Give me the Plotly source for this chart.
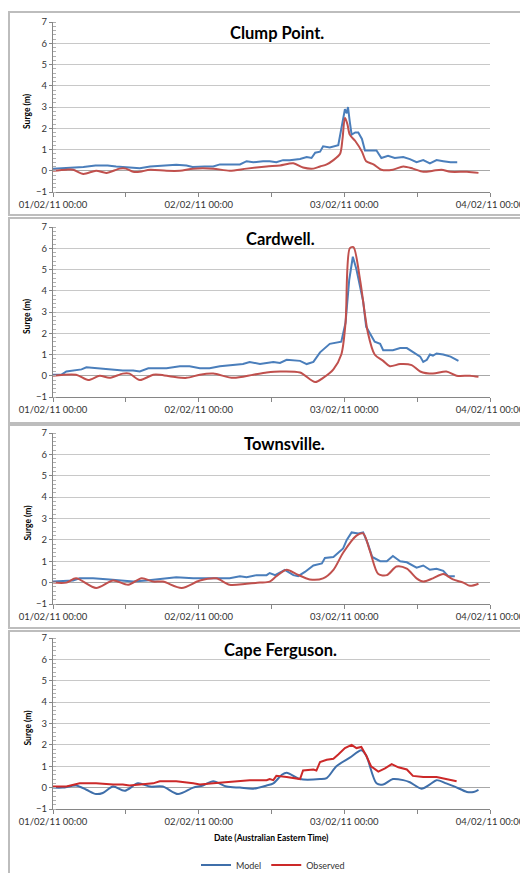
import pandas as pd
import plotly.graph_objects as go

# surge (m) vs hours since 01/02/11 00:00
CLUMP_MODEL = [(0, 0.10), (2, 0.12), (5, 0.18), (7, 0.25), (9, 0.25), (10.4, 0.20), (13, 0.15),
               (14.3, 0.12), (16, 0.20), (18.7, 0.25), (20.3, 0.28), (22, 0.25), (23, 0.18),
               (25, 0.20), (26.4, 0.20), (27.5, 0.30), (29.7, 0.30), (30.8, 0.30), (31.9, 0.45),
               (33, 0.40), (34.6, 0.45), (35.7, 0.45), (36.8, 0.40), (37.9, 0.50), (39, 0.50),
               (40.7, 0.55), (41.8, 0.65), (42.6, 0.60), (43.2, 0.85), (44, 0.90), (44.5, 1.15),
               (45.6, 1.10), (47, 1.20), (47.3, 1.70), (47.5, 2.00), (48.1, 2.90), (48.4, 2.70),
               (48.6, 3.00), (48.9, 2.30), (49.2, 1.70), (49.8, 1.80), (50.3, 1.80), (50.9, 1.50),
               (51.4, 0.95), (53.3, 0.95), (54.1, 0.60), (55.2, 0.70), (56.3, 0.60), (57.7, 0.65),
               (58.8, 0.55), (59.9, 0.40), (61, 0.50), (62.1, 0.35), (63.2, 0.50), (64.3, 0.45),
               (65.5, 0.40), (66.6, 0.40)]
CLUMP_OBS = [(0, 0.0), (2.2, 0.05), (3.3, 0.05), (5, -0.15), (7.1, 0.0), (8.8, -0.10), (11, 0.10),
             (12, 0.10), (13.2, -0.05), (14.3, -0.05), (16, 0.05), (18.7, 0.0), (20.9, 0.0),
             (23.1, 0.10), (26.4, 0.10), (29.1, 0.0), (31.9, 0.10), (35.2, 0.20), (37.4, 0.25),
             (39.6, 0.35), (41.2, 0.15), (42.9, 0.10), (44, 0.20), (45.1, 0.30), (46.2, 0.50),
             (47.3, 0.80), (47.7, 1.50), (48.1, 2.50), (48.5, 2.20), (48.9, 1.70), (49.8, 1.40),
             (50.9, 0.90), (51.6, 0.45), (52.8, 0.30), (54.1, 0.05), (56, 0.05), (57.7, 0.20),
             (59.3, 0.10), (61, -0.05), (62.6, 0.0), (64, 0.05), (65.5, -0.05), (68.2, -0.05),
             (70.1, -0.10)]

CARD_MODEL = [(0, 0.05), (1.4, 0.05), (2.2, 0.20), (3.8, 0.25), (4.7, 0.30), (5.5, 0.40), (7.7, 0.35),
              (9.3, 0.30), (11.5, 0.25), (13.2, 0.25), (14.3, 0.20), (15.7, 0.35), (18.7, 0.35),
              (20.9, 0.45), (22.5, 0.45), (24.2, 0.35), (25.8, 0.35), (27.5, 0.45), (29.7, 0.50),
              (31.3, 0.55), (32.4, 0.65), (34.1, 0.55), (36.3, 0.65), (37.4, 0.60), (38.5, 0.75),
              (40.7, 0.70), (41.8, 0.55), (42.9, 0.65), (44, 1.10), (45.6, 1.50), (47.5, 1.60),
              (48.2, 2.50), (48.8, 4.50), (49.4, 5.60), (50, 5.00), (51.1, 3.50), (51.6, 2.30),
              (53, 1.60), (53.9, 1.50), (54.4, 1.20), (56, 1.20), (57.2, 1.30), (58.3, 1.30),
              (59.3, 1.10), (60.5, 0.90), (61, 0.65), (61.6, 0.75), (62.1, 1.00), (62.6, 0.95),
              (63.2, 1.05), (64.3, 1.00), (65.5, 0.90), (66.8, 0.70)]
CARD_OBS = [(0, 0.0), (3.8, 0.05), (5.8, -0.20), (7.7, 0.0), (9.3, -0.10), (11.5, 0.10), (12.6, 0.10),
            (14.3, -0.20), (16.5, 0.05), (17.6, 0.05), (19.8, -0.05), (22, -0.10), (24.2, 0.05),
            (26.4, 0.10), (29.7, -0.10), (33, 0.05), (35.2, 0.15), (37.4, 0.20), (40.7, 0.15),
            (43.2, -0.30), (44.5, -0.10), (46.2, 0.30), (47.5, 1.00), (48.2, 2.50), (48.9, 6.00),
            (49.5, 6.05), (50.6, 4.50), (51.9, 2.00), (53, 1.00), (54.4, 0.70), (55.5, 0.45),
            (57.2, 0.55), (59.1, 0.50), (60.5, 0.20), (62.6, 0.10), (64.8, 0.20), (66.5, 0.0),
            (68.7, 0.0), (70.1, -0.05)]

TOWN_MODEL = [(0, 0.05), (3.3, 0.10), (4.4, 0.20), (6.6, 0.20), (9.3, 0.15), (12, 0.10), (13.2, 0.05),
              (15.4, 0.10), (18.1, 0.20), (20.3, 0.25), (23.1, 0.20), (26.4, 0.20), (29.1, 0.20),
              (30.8, 0.30), (31.9, 0.25), (33.5, 0.35), (35.2, 0.35), (35.7, 0.45), (36.6, 0.35),
              (38.2, 0.60), (39.6, 0.35), (40.4, 0.30), (41.5, 0.50), (42.9, 0.80), (44.3, 0.90),
              (44.8, 1.15), (46.2, 1.20), (47.8, 1.60), (48.4, 2.00), (49.2, 2.35), (50.3, 2.30),
              (51.1, 2.35), (51.9, 1.80), (52.6, 1.20), (53.9, 1.00), (55, 1.00), (56, 1.25),
              (57.2, 1.00), (58.3, 0.95), (59.9, 0.70), (61, 0.80), (62.1, 0.60), (63.2, 0.65),
              (64.3, 0.55), (65.1, 0.30), (66.2, 0.30)]
TOWN_OBS = [(0, 0.0), (2.2, 0.0), (3.8, 0.20), (7.1, -0.25), (9.9, 0.10), (12.4, -0.10), (14.6, 0.20),
            (16.5, 0.05), (18.1, 0.05), (21.2, -0.25), (24.2, 0.10), (26.9, 0.20), (29.1, -0.10),
            (31.9, -0.05), (34.1, 0.0), (35.7, 0.05), (36.8, 0.30), (38.5, 0.60), (40.1, 0.40),
            (42.3, 0.15), (44.5, 0.20), (46.2, 0.60), (47.8, 1.40), (50, 2.20), (51.1, 2.30),
            (52.2, 1.50), (53.6, 0.40), (55, 0.35), (56.6, 0.75), (58.3, 0.65), (59.9, 0.20),
            (61, 0.05), (62.6, 0.20), (64.3, 0.40), (65.9, 0.15), (67.6, 0.0), (68.7, -0.15),
            (70.1, -0.05)]

CAPE_MODEL = [(0, 0.0), (1.6, 0.0), (3.8, 0.10), (5.5, -0.10), (7.1, -0.30), (8.2, -0.25), (9.9, 0.05),
              (11.8, -0.15), (14, 0.20), (16, 0.05), (18.1, 0.05), (20.6, -0.30), (23.1, 0.0),
              (24.7, 0.10), (26.4, 0.30), (28.6, 0.05), (30.8, 0.0), (33, -0.05), (35.2, 0.10),
              (36.3, 0.20), (37.7, 0.60), (38.5, 0.70), (40.7, 0.40), (44, 0.40), (45.1, 0.45),
              (46.7, 1.00), (48.9, 1.40), (50.8, 1.75), (51.6, 1.50), (53.3, 0.20), (54.4, 0.15),
              (56, 0.40), (57.7, 0.35), (58.8, 0.25), (60.7, -0.05), (62.1, 0.15), (63.2, 0.35),
              (64.8, 0.20), (66.2, 0.05), (68.2, -0.20), (69.3, -0.20), (70.1, -0.10)]
CAPE_OBS = [(0, 0.05), (2.2, 0.05), (4.4, 0.20), (7.1, 0.20), (9.9, 0.15), (11.5, 0.15), (12.6, 0.10),
            (14.8, 0.15), (16.5, 0.20), (17.6, 0.30), (20.3, 0.30), (23.1, 0.20), (24.2, 0.15),
            (26.4, 0.20), (28.6, 0.25), (30.2, 0.30), (32.4, 0.35), (35.2, 0.35), (35.7, 0.40),
            (36.3, 0.35), (36.8, 0.55), (38.5, 0.50), (40.1, 0.45), (40.7, 0.40), (41.2, 0.80),
            (42.9, 0.85), (43.4, 0.80), (44, 1.20), (45.1, 1.30), (46.2, 1.35), (47, 1.55),
            (48.1, 1.85), (49.2, 2.00), (50, 1.85), (50.8, 1.90), (51.6, 1.50), (52.4, 1.00),
            (53.6, 0.75), (54.7, 0.90), (55.8, 1.10), (56.9, 0.95), (58.3, 0.85), (59.3, 0.55),
            (61, 0.50), (63.2, 0.50), (64.8, 0.40), (66.5, 0.30)]

STATIONS = ["Clump Point.", "Cardwell.", "Townsville.", "Cape Ferguson."]
MODEL = [CLUMP_MODEL, CARD_MODEL, TOWN_MODEL, CAPE_MODEL]
OBSERVED = [CLUMP_OBS, CARD_OBS, TOWN_OBS, CAPE_OBS]
# the last chart has the smooth curve on the model series
SMOOTH_MODEL = [False, False, False, True]

W, H = 528, 873
OFF = 8  # the page body margin shifts the figure by 8px
START = pd.Timestamp("2011-02-01")
BLUE = ["#4A7EBB", "#4A7EBB", "#4A7EBB", "#3F6FAA"]
RED = ["#C0504D", "#C0504D", "#C0504D", "#CC2929"]
TXT = "#333333"
AXC = "#868686"
GRID = "#C8C8C8"
FRAME = "#BDBDBD"
FONT = "Lato, Liberation Sans, sans-serif"

# plot boxes in screen pixels (top, bottom); x from 53 to 490 for all
PLOT_Y = [(22, 192), (227, 397), (433, 604), (638, 809)]
FRAMES = [(12, 215), (218, 423), (425, 628), (631, 890)]
TITLE_Y = [33, 239, 444, 650]
TITLE_X = [277, 280, 284, 280]
X0, X1 = 53, 490


def px(x):
    return (x - OFF) / W


def py(y):
    return 1 - (y - OFF) / H


def times(pairs):
    return [START + pd.Timedelta(hours=h) for h, _ in pairs]


def note(text, x, y, size, **kw):
    fig.add_annotation(text=text, xref="paper", yref="paper", x=px(x), y=py(y),
                       xanchor="center", yanchor="middle", showarrow=False,
                       font=dict(size=size, color="black", family=FONT), **kw)


fig = go.Figure()
lay = {}
for i, name in enumerate(STATIONS):
    n = "" if i == 0 else str(i + 1)
    top, bot = PLOT_Y[i]
    fig.add_trace(go.Scatter(
        x=times(MODEL[i]), y=[v for _, v in MODEL[i]], name="Model", mode="lines",
        line=dict(color=BLUE[i], width=2, shape="spline" if SMOOTH_MODEL[i] else "linear",
                  smoothing=0.8),
        xaxis="x" + n, yaxis="y" + n, showlegend=(i == 3)))
    fig.add_trace(go.Scatter(
        x=times(OBSERVED[i]), y=[v for _, v in OBSERVED[i]], name="Observed", mode="lines",
        line=dict(color=RED[i], width=2, shape="linear" if SMOOTH_MODEL[i] else "spline",
                  smoothing=0.8),
        xaxis="x" + n, yaxis="y" + n, showlegend=(i == 3)))

    lay["xaxis" + n] = dict(
        type="date", domain=[px(X0), px(X1)], anchor="y" + n, automargin=False,
        range=[START, START + pd.Timedelta(days=3)],
        tick0=START, dtick=86400000, tickformat="%d/%m/%y %H:%M",
        showgrid=False, zeroline=False, showline=True, linecolor=AXC, linewidth=1,
        ticks="outside", ticklen=4, tickcolor=AXC,
        minor=dict(dtick=43200000, ticks="outside", ticklen=4, tickcolor=AXC, showgrid=False),
        tickfont=dict(size=9.5, color=TXT, family=FONT))
    lay["yaxis" + n] = dict(
        domain=[py(bot), py(top)], anchor="x" + n, range=[-1, 7], dtick=1, automargin=False,
        showgrid=True, gridcolor=GRID, gridwidth=1,
        zeroline=True, zerolinecolor="#A8A8A8", zerolinewidth=1,
        showline=True, linecolor=AXC, linewidth=1,
        ticks="outside", ticklen=3, tickcolor=AXC,
        minor=dict(dtick=0.2, ticks="inside", ticklen=3, tickcolor="#B0B0B0", showgrid=False),
        tickfont=dict(size=9.5, color=TXT, family=FONT))

    note(f"<b>{name}</b>", TITLE_X[i], TITLE_Y[i], 16.5)
    note("<b>Surge (m)</b>", 27, (top + bot) / 2 + 4, 8.5, textangle=-90)
    ft, fb = FRAMES[i]
    fig.add_shape(type="rect", xref="paper", yref="paper", x0=px(9), x1=1.05,
                  y0=py(fb), y1=py(ft), line=dict(color=FRAME, width=2), layer="below")

note("<b>Date (Australian Eastern Time)</b>", 271, 838, 8.5)

fig.update_layout(
    width=W, height=H, margin=dict(l=0, r=0, t=0, b=0, autoexpand=False),
    paper_bgcolor="white", plot_bgcolor="white",
    font=dict(family=FONT, color=TXT),
    legend=dict(orientation="h", x=px(273), xanchor="center", y=py(865), yanchor="middle",
                font=dict(size=9, color=TXT, family=FONT), itemwidth=30,
                bgcolor="rgba(0,0,0,0)"),
    **lay)

fig.write_html("out.html")
